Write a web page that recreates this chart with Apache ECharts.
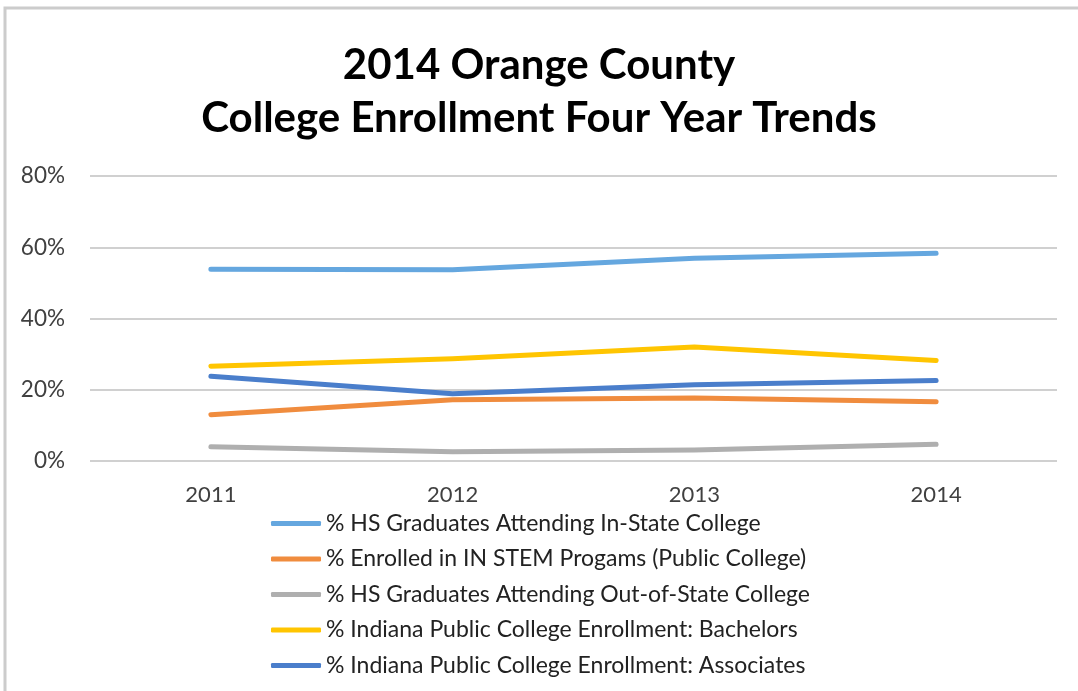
<!DOCTYPE html>
<html><head><meta charset="utf-8">
<script src="https://cdn.jsdelivr.net/npm/echarts@6/dist/echarts.min.js"></script>
<style>html,body{margin:0;padding:0;background:#fff}#c{width:1078px;height:691px}</style>
</head><body><div id="c"></div>
<script>
const years = ['2011', '2012', '2013', '2014'];
const seriesNames = [
  '% HS Graduates Attending In-State College',
  '% Enrolled in IN STEM Progams (Public College)',
  '% HS Graduates Attending Out-of-State College',
  '% Indiana Public College Enrollment: Bachelors',
  '% Indiana Public College Enrollment: Associates'
];
const inState = [53.8, 53.7, 56.9, 58.3];
const stem = [13.0, 17.2, 17.7, 16.6];
const outState = [4.0, 2.6, 3.1, 4.7];
const bachelors = [26.6, 28.7, 32.0, 28.2];
const associates = [23.8, 18.9, 21.4, 22.6];
const yTicks = [0, 20, 40, 60, 80];
const colors = ['#65A7DF', '#F08C3E', '#AFAFAF', '#FFC501', '#4A7ECB'];
const values = [inState, stem, outState, bachelors, associates];

const font = 'Lato, "Open Sans", sans-serif';
const chart = echarts.init(document.getElementById('c'));
chart.setOption({
  animation: false,
  title: {
    text: '2014 Orange County\nCollege Enrollment Four Year Trends',
    left: 'center', top: 34,
    textStyle: { fontFamily: font, fontWeight: 'bold', fontSize: 42, lineHeight: 53, color: '#000' }
  },
  graphic: [{
    type: 'polyline', silent: true,
    shape: { points: [[5, 691], [5, 8], [1078, 8]] },
    style: { stroke: '#cccccc', lineWidth: 3, fill: null }
  }],
  grid: { left: 90, right: 21, top: 176, bottom: 230, containLabel: false },
  xAxis: {
    type: 'category', data: years, boundaryGap: true,
    axisLine: { show: false }, axisTick: { show: false },
    axisLabel: { fontFamily: font, fontSize: 22, color: '#404040', margin: 23 }
  },
  yAxis: {
    type: 'value', min: yTicks[0], max: yTicks[yTicks.length - 1], interval: 20,
    axisLine: { show: false }, axisTick: { show: false },
    axisLabel: { fontFamily: font, fontSize: 22.5, color: '#404040', margin: 25, formatter: v => v + '%' },
    splitLine: { lineStyle: { color: '#d0d0d0', width: 2 } }
  },
  legend: {
    orient: 'vertical', left: 266, top: 507, itemGap: 12.5,
    itemWidth: 50, itemHeight: 5, icon: 'roundRect',
    textStyle: { fontFamily: font, fontSize: 23, color: '#222' },
    data: seriesNames
  },
  series: values.map((d, i) => ({
    name: seriesNames[i], type: 'line', data: d,
    symbol: 'none', smooth: false,
    color: colors[i],
    lineStyle: { width: 5, color: colors[i], cap: 'round', join: 'round' }
  }))
});
</script></body></html>
